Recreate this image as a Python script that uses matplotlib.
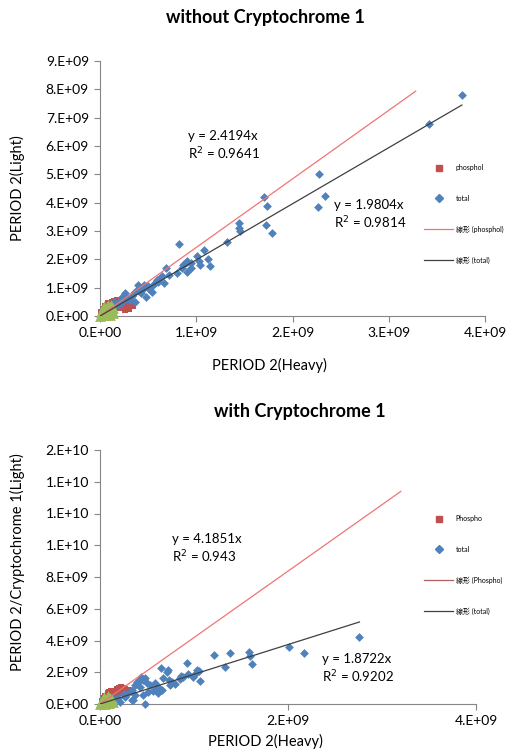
import matplotlib
matplotlib.use("Agg")
import matplotlib.pyplot as plt
from matplotlib.lines import Line2D
import numpy as np

# ---------------- data (units of 1e9) ----------------
SCALE = 1e9

top_total_x = [3.76, 3.42, 2.28, 2.34, 2.27, 1.70, 1.73, 1.72, 1.79, 1.44, 1.44, 1.45, 1.32, 0.82,
               1.08, 1.01, 1.03, 1.04, 1.12, 1.14, 0.90, 0.87, 0.90, 0.95, 0.85,
               0.69, 0.86, 0.90, 0.95, 0.80, 0.72, 0.67, 0.59, 0.57, 0.52, 0.54, 0.39, 0.41, 0.43,
               0.36, 0.48, 0.26, 0.23, 0.31, 0.36, 0.15, 0.19, 0.10, 0.05, 0.45, 0.50, 0.33, 0.28,
               0.20, 0.12, 0.08, 0.62, 0.64, 0.46, 0.40, 0.35, 0.30, 0.25, 0.55, 0.60, 0.18, 0.22,
               0.03, 0.06, 0.14]
top_total_y = [7.80, 6.78, 5.01, 4.24, 3.85, 4.20, 3.88, 3.21, 2.93, 3.28, 3.11, 3.00, 2.61, 2.54,
               2.33, 2.12, 1.94, 1.80, 2.01, 1.77, 1.94, 1.84, 1.55, 1.69, 1.69,
               1.69, 1.80, 1.91, 1.87, 1.52, 1.45, 1.16, 1.27, 1.16, 0.92, 0.85, 1.09, 0.99, 0.81,
               0.85, 0.67, 0.81, 0.67, 0.56, 0.49, 0.49, 0.39, 0.32, 0.21, 0.95, 1.05, 0.70, 0.62,
               0.50, 0.30, 0.20, 1.35, 1.40, 1.10, 0.90, 0.80, 0.60, 0.55, 1.10, 1.20, 0.42, 0.45,
               0.08, 0.15, 0.28]

top_phos_x = [0.05, 0.08, 0.12, 0.15, 0.18, 0.22, 0.25, 0.28, 0.32, 0.34, 0.30, 0.26, 0.20, 0.15,
              0.10, 0.05, 0.02, 0.03, 0.12, 0.18, 0.22, 0.28, 0.01, 0.07, 0.31, 0.24]
top_phos_y = [0.35, 0.45, 0.50, 0.52, 0.55, 0.50, 0.55, 0.52, 0.45, 0.35, 0.25, 0.20, 0.30, 0.20,
              0.15, 0.10, 0.05, 0.25, 0.35, 0.40, 0.35, 0.40, 0.15, 0.28, 0.52, 0.45]

top_green_x = [0.00, 0.02, 0.04, 0.06, 0.08, 0.10, 0.12, 0.14, 0.05, 0.10, 0.03, 0.07, 0.01,
               0.09, 0.13, 0.11, 0.04, 0.08]
top_green_y = [0.00, 0.05, 0.10, 0.15, 0.20, 0.25, 0.22, 0.12, 0.02, 0.05, 0.25, 0.32, 0.15,
               0.08, 0.28, 0.38, 0.35, 0.40]

bot_total_x = [2.76, 2.01, 2.17, 1.59, 1.60, 1.62, 1.38, 1.21, 1.33, 0.93, 0.65, 0.72, 1.03, 1.05,
               1.01, 0.99, 1.06, 0.94, 0.86, 0.85, 0.73, 0.67, 0.62, 0.56, 0.48, 0.34, 0.43, 0.39,
               0.71, 0.46, 0.40, 0.50, 0.37, 0.43, 0.53, 0.59, 0.34, 0.30, 0.37, 0.27, 0.35, 0.21,
               0.19, 0.66, 0.77, 0.74, 0.88, 0.85, 0.62, 0.51, 0.46, 0.44, 0.48, 0.15, 0.10, 0.25,
               0.58, 0.80, 0.12, 0.06]
bot_total_y = [4.22, 3.59, 3.21, 3.28, 3.02, 2.52, 3.21, 3.09, 2.33, 2.58, 2.27, 2.14, 2.14, 2.08,
               1.89, 1.70, 1.45, 1.89, 1.76, 1.57, 1.51, 1.64, 1.07, 0.82, 0.02, 0.25, 1.51, 1.39,
               2.02, 1.51, 1.39, 1.32, 1.20, 1.07, 1.20, 0.88, 0.88, 0.69, 0.57, 0.44, 0.25, 0.13,
               0.38, 0.88, 1.39, 1.20, 1.70, 1.64, 0.69, 0.76, 0.57, 1.70, 1.64, 0.30, 0.20, 0.60,
               1.30, 1.25, 0.45, 0.15]

bot_phos_x = [0.05, 0.08, 0.10, 0.12, 0.15, 0.18, 0.20, 0.22, 0.25, 0.27, 0.30, 0.28, 0.24, 0.20,
              0.15, 0.10, 0.06, 0.03, 0.02, 0.12, 0.18, 0.22, 0.26, 0.14]
bot_phos_y = [0.50, 0.70, 0.75, 0.80, 0.85, 0.95, 1.00, 1.05, 1.00, 0.95, 0.90, 0.75, 0.70, 0.80,
              0.60, 0.55, 0.30, 0.40, 0.20, 0.45, 0.70, 0.85, 0.85, 0.65]

bot_green_x = [0.00, 0.02, 0.04, 0.06, 0.08, 0.10, 0.12, 0.14, 0.05, 0.10, 0.03, 0.07, 0.01,
               0.09, 0.13, 0.11, 0.04, 0.08]
bot_green_y = [0.00, 0.05, 0.10, 0.15, 0.20, 0.25, 0.20, 0.10, 0.02, 0.05, 0.30, 0.35, 0.15,
               0.08, 0.28, 0.40, 0.45, 0.50]

top_slopes = [2.4194, 1.9804]
top_r2 = ["0.9641", "0.9814"]
top_line_end = [3.28, 3.76]
bot_slopes = [4.1851, 1.8722]
bot_r2 = ["0.943", "0.9202"]
bot_line_end = [3.20, 2.76]

top_xticks = [0, 1, 2, 3, 4]
top_xticklabels = ["0.E+00", "1.E+09", "2.E+09", "3.E+09", "4.E+09"]
top_yticks = [0, 1, 2, 3, 4, 5, 6, 7, 8, 9]
top_yticklabels = ["0.E+00", "1.E+09", "2.E+09", "3.E+09", "4.E+09", "5.E+09",
                   "6.E+09", "7.E+09", "8.E+09", "9.E+09"]
bot_xticks = [0, 2, 4]
bot_xticklabels = ["0.E+00", "2.E+09", "4.E+09"]
bot_yticks = [0, 2, 4, 6, 8, 10, 12, 14, 16]
bot_yticklabels = ["0.E+00", "2.E+09", "4.E+09", "6.E+09", "8.E+09", "1.E+10",
                   "1.E+10", "1.E+10", "2.E+10"]

top_legend = ["phosphol", "total", "線形 (phosphol)", "線形 (total)"]
bot_legend = ["Phospho", "total", "線形 (Phospho)", "線形 (total)"]

# ---------------- style ----------------
BLUE = "#4F81BD"
RED = "#C0504D"
GREEN = "#9BBB59"
TREND_RED = "#F07474"
TREND_BLACK = "#404040"
AXIS_GRAY = "#868686"
FONT = ["Lato", "Noto Sans CJK JP", "DejaVu Sans"]
plt.rcParams["font.family"] = FONT

fig = plt.figure(figsize=(5.08, 7.51), dpi=100)
W, H = 508, 751


def px_axes(l, t, r, b):
    return fig.add_axes([l / W, 1 - b / H, (r - l) / W, (b - t) / H])


def style(ax, xticks, xlabels, yticks, ylabels, xmax, ymax):
    ax.set_xlim(0, xmax * SCALE)
    ax.set_ylim(0, ymax * SCALE)
    ax.set_xticks(np.array(xticks) * SCALE)
    ax.set_xticklabels(xlabels)
    ax.set_yticks(np.array(yticks) * SCALE)
    ax.set_yticklabels(ylabels)
    for s in ["top", "right"]:
        ax.spines[s].set_visible(False)
    for s in ["left", "bottom"]:
        ax.spines[s].set_color(AXIS_GRAY)
        ax.spines[s].set_linewidth(0.8)
    ax.tick_params(axis="both", colors=AXIS_GRAY, length=4, width=0.8,
                   labelsize=10, labelcolor="black", pad=4)


def draw(ax, tx, ty, px_, py_, gx, gy, slopes, ends):
    for slope, end, col in zip(slopes, ends, [TREND_RED, TREND_BLACK]):
        xs = np.array([0, end]) * SCALE
        ax.plot(xs, slope * xs, color=col, lw=0.9, zorder=4)
    ax.scatter(np.array(px_) * SCALE, np.array(py_) * SCALE, marker="s", s=24,
               color=RED, linewidths=0, zorder=2, clip_on=False)
    ax.scatter(np.array(tx) * SCALE, np.array(ty) * SCALE, marker="D", s=20,
               color=BLUE, linewidths=0, zorder=3, clip_on=False)
    ax.scatter(np.array(gx) * SCALE, np.array(gy) * SCALE, marker="^", s=60,
               color=GREEN, linewidths=0, zorder=3.5, clip_on=False)


def legend(labels, x, y, red_line):
    handles = [
        Line2D([], [], marker="s", color=RED, linestyle="none", markersize=4.5),
        Line2D([], [], marker="D", color=BLUE, linestyle="none", markersize=4),
        Line2D([], [], color=red_line, lw=0.9),
        Line2D([], [], color=TREND_BLACK, lw=0.9),
    ]
    fig.legend(handles, labels, loc="upper left", bbox_to_anchor=(x / W, 1 - y / H),
               frameon=False, fontsize=5, labelspacing=3.4, handlelength=4.2,
               handletextpad=0.35, borderaxespad=0, borderpad=0)


# ---------- top panel ----------
ax1 = px_axes(100, 61, 485, 316)
style(ax1, top_xticks, top_xticklabels, top_yticks, top_yticklabels, 4, 9)
draw(ax1, top_total_x, top_total_y, top_phos_x, top_phos_y, top_green_x, top_green_y,
     top_slopes, top_line_end)
ax1.set_xlabel("PERIOD 2(Heavy)", fontsize=10.5)
ax1.xaxis.set_label_coords(0.44, -42 / 255)
ax1.set_ylabel("PERIOD 2(Light)", fontsize=10.5)
ax1.yaxis.set_label_coords(-75 / 385, 0.5)
fig.text(265 / W, 1 - 18 / H, "without Cryptochrome 1", ha="center", va="center",
         fontsize=13, fontweight="bold")
ax1.text(188 / W, 1 - 146 / H, f"y = {top_slopes[0]}x\nR$^2$ = {top_r2[0]}",
         transform=fig.transFigure, fontsize=9.5, va="center", ha="left", linespacing=1.2)
ax1.text(334 / W, 1 - 215 / H, f"y = {top_slopes[1]}x\nR$^2$ = {top_r2[1]}",
         transform=fig.transFigure, fontsize=9.5, va="center", ha="left", linespacing=1.2)
legend(top_legend, 424, 164, TREND_RED)

# ---------- bottom panel ----------
ax2 = px_axes(100, 450, 476, 704)
style(ax2, bot_xticks, bot_xticklabels, bot_yticks, bot_yticklabels, 4, 16)
draw(ax2, bot_total_x, bot_total_y, bot_phos_x, bot_phos_y, bot_green_x, bot_green_y,
     bot_slopes, bot_line_end)
ax2.set_xlabel("PERIOD 2(Heavy)", fontsize=10.5)
ax2.xaxis.set_label_coords(0.44, -30 / 254)
ax2.set_ylabel("PERIOD 2/Cryptochrome 1(Light)", fontsize=10.5)
ax2.yaxis.set_label_coords(-75 / 376, 0.56)
fig.text(300 / W, 1 - 411 / H, "with Cryptochrome 1", ha="center", va="center",
         fontsize=13, fontweight="bold")
ax2.text(172 / W, 1 - 549 / H, f"y = {bot_slopes[0]}x\nR$^2$ = {bot_r2[0]}",
         transform=fig.transFigure, fontsize=9.5, va="center", ha="left", linespacing=1.2)
ax2.text(322 / W, 1 - 669 / H, f"y = {bot_slopes[1]}x\nR$^2$ = {bot_r2[1]}",
         transform=fig.transFigure, fontsize=9.5, va="center", ha="left", linespacing=1.2)
legend(bot_legend, 424, 515, "#B06060")

fig.savefig("out.png", dpi=100)
